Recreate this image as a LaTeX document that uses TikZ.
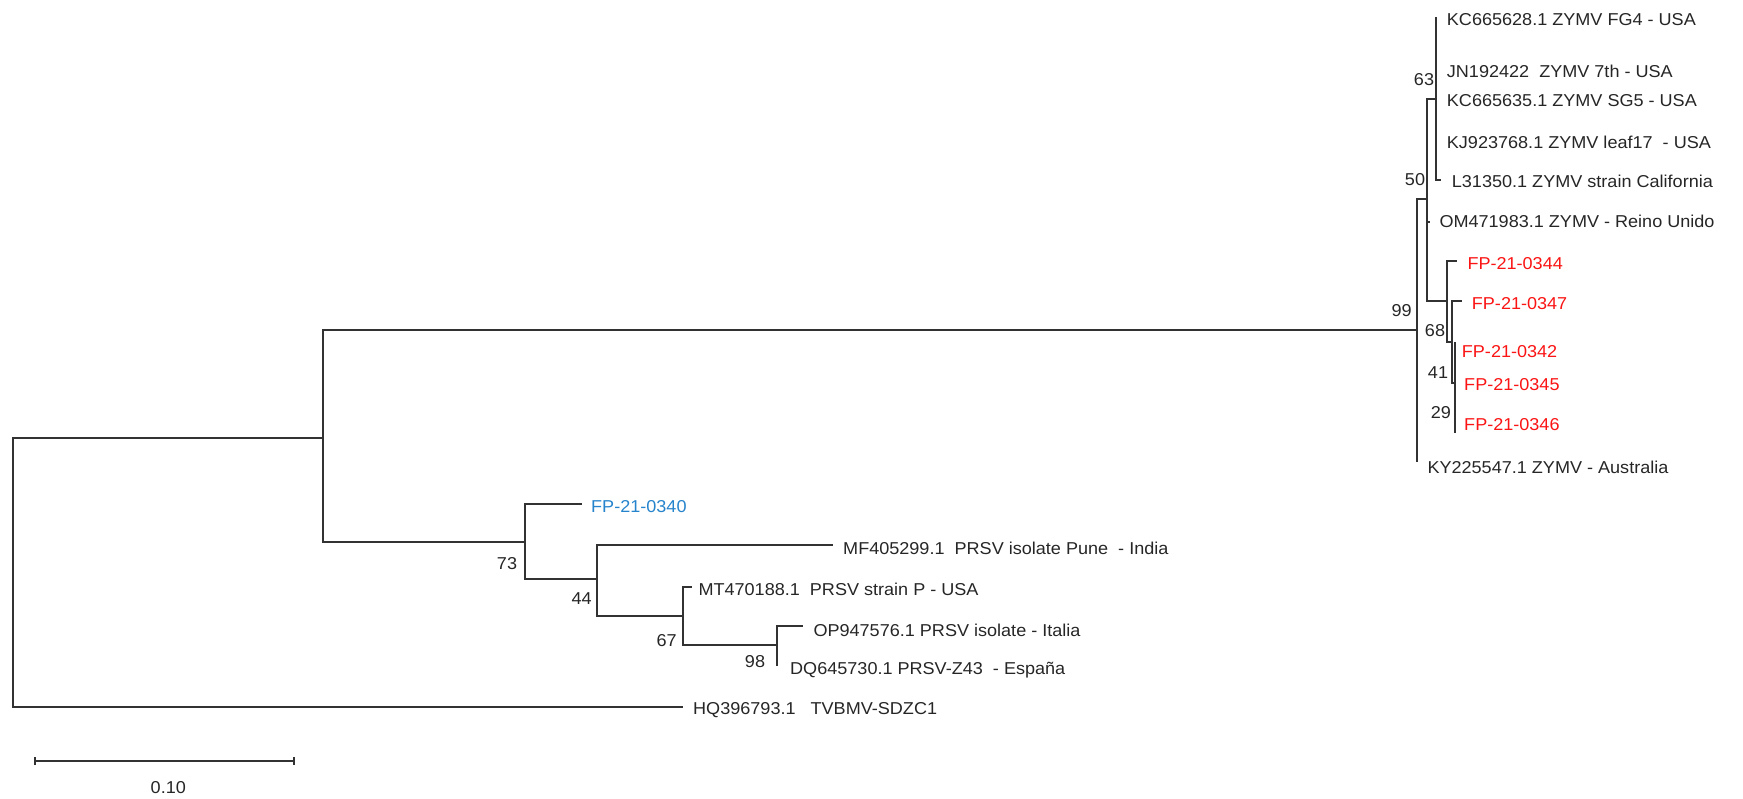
\documentclass[tikz,border=0pt]{standalone}
\usepackage{fontspec}
\setmainfont{Liberation Sans}[FakeStretch=1.05]
\definecolor{fpred}{RGB}{250,20,20}
\definecolor{fpblue}{RGB}{38,132,204}
\definecolor{branch}{RGB}{50,50,50}
\begin{document}
\begin{tikzpicture}[x=1pt,y=-1pt,
  br/.style={draw=branch,line width=1.8pt},
  leaf/.style={anchor=west,inner sep=0pt,font=\fontsize{17.2}{19}\selectfont,text=black!85},
  redleaf/.style={leaf,text=fpred},
  blueleaf/.style={leaf,text=fpblue},
  boot/.style={inner sep=0pt,font=\fontsize{17.2}{19}\selectfont,text=black!85}]
\useasboundingbox (0,0) rectangle (1743,798);
% internal nodes and tips
\coordinate (root) at (13,572);
\coordinate (nA) at (323,438);
\coordinate (tHQ) at (683,707);
\coordinate (n99) at (1417,330);
\coordinate (n50) at (1427,199);
\coordinate (tKY) at (1417,462);
\coordinate (n63) at (1436,99);
\coordinate (tOM) at (1430,222);
\coordinate (nF1) at (1447,301);
\coordinate (tKC8) at (1436,17);
\coordinate (tJN) at (1436,72);
\coordinate (tKC5) at (1436,100);
\coordinate (tKJ) at (1436,143);
\coordinate (tL3) at (1441,180);
\coordinate (t44) at (1457,261);
\coordinate (nF2) at (1452,342);
\coordinate (t47) at (1462,301);
\coordinate (nF3) at (1455,383);
\coordinate (t42) at (1455,342);
\coordinate (t45) at (1455,383);
\coordinate (t46) at (1455,433);
\coordinate (n73) at (525,542);
\coordinate (t40) at (582,504);
\coordinate (n44) at (597,579);
\coordinate (tMF) at (833,545);
\coordinate (n67) at (683,616);
\coordinate (tMT) at (692,587);
\coordinate (n98) at (777,645);
\coordinate (tOP) at (803,626);
\coordinate (tDQ) at (777,666);
% branches
\draw[br] (root) |- (nA);
\draw[br] (root) |- (tHQ);
\draw[br] (nA) |- (n99);
\draw[br] (nA) |- (n73);
\draw[br] (n99) |- (n50);
\draw[br] (n99) |- (tKY);
\draw[br] (n50) |- (n63);
\draw[br] (n50) |- (tOM);
\draw[br] (n50) |- (nF1);
\draw[br] (n63) |- (tKC8);
\draw[br] (n63) |- (tJN);
\draw[br] (n63) |- (tKC5);
\draw[br] (n63) |- (tKJ);
\draw[br] (n63) |- (tL3);
\draw[br] (nF1) |- (t44);
\draw[br] (nF1) |- (nF2);
\draw[br] (nF2) |- (t47);
\draw[br] (nF2) |- (nF3);
\draw[br] (nF3) |- (t42);
\draw[br] (nF3) |- (t45);
\draw[br] (nF3) |- (t46);
\draw[br] (n73) |- (t40);
\draw[br] (n73) |- (n44);
\draw[br] (n44) |- (tMF);
\draw[br] (n44) |- (n67);
\draw[br] (n67) |- (tMT);
\draw[br] (n67) |- (n98);
\draw[br] (n98) |- (tOP);
\draw[br] (n98) |- (tDQ);
% leaf labels
\node[leaf] (lKC8) at (1446.7,20) {KC665628.1 ZYMV FG4 - USA};
\node[leaf] (lJN) at (1446.7,71.7) {JN192422\ \ ZYMV 7th - USA};
\node[leaf] (lKC5) at (1446.7,100.5) {KC665635.1 ZYMV SG5 - USA};
\node[leaf] (lKJ) at (1446.7,142.7) {KJ923768.1 ZYMV leaf17\ \ - USA};
\node[leaf] (lL3) at (1451.7,181.7) {L31350.1 ZYMV strain California};
\node[leaf] (lOM) at (1439.3,221.7) {OM471983.1 ZYMV - Reino Unido};
\node[redleaf] (l44) at (1467.3,263.3) {FP-21-0344};
\node[redleaf] (l47) at (1471.7,303.3) {FP-21-0347};
\node[redleaf] (l42) at (1461.7,351.7) {FP-21-0342};
\node[redleaf] (l45) at (1464,385) {FP-21-0345};
\node[redleaf] (l46) at (1464,425) {FP-21-0346};
\node[leaf] (lKY) at (1427.3,467.7) {KY225547.1 ZYMV - Australia};
\node[blueleaf] (l40) at (591,507) {FP-21-0340};
\node[leaf] (lMF) at (843,548) {MF405299.1\ \ PRSV isolate Pune\ \ - India};
\node[leaf] (lMT) at (698.3,589.3) {MT470188.1\ \ PRSV strain P - USA};
\node[leaf] (lOP) at (813.3,630) {OP947576.1 PRSV isolate - Italia};
\node[leaf] (lDQ) at (790,670) {DQ645730.1 PRSV-Z43\ \ - España};
\node[leaf] (lHQ) at (693,710) {HQ396793.1\ \ \ TVBMV-SDZC1};
% bootstrap values
\node[boot] (b63) at (1424,80) {63};
\node[boot] (b50) at (1415,180) {50};
\node[boot] (b99) at (1401.7,311) {99};
\node[boot] (b68) at (1435,330.7) {68};
\node[boot] (b41) at (1438,372.7) {41};
\node[boot] (b29) at (1440.8,412.3) {29};
\node[boot] (b73) at (507,563.3) {73};
\node[boot] (b44) at (581.7,598.3) {44};
\node[boot] (b67) at (666.7,640.7) {67};
\node[boot] (b98) at (755,661.7) {98};
% scale bar
\coordinate (sbL) at (35,761);
\coordinate (sbR) at (294,761);
\draw[br] (sbL) -- (sbR);
\draw[br] ([yshift=-4pt]sbL) -- ([yshift=4pt]sbL);
\draw[br] ([yshift=-4pt]sbR) -- ([yshift=4pt]sbR);
\node[boot] (sblab) at (168.3,788) {0.10};
\end{tikzpicture}
\end{document}
